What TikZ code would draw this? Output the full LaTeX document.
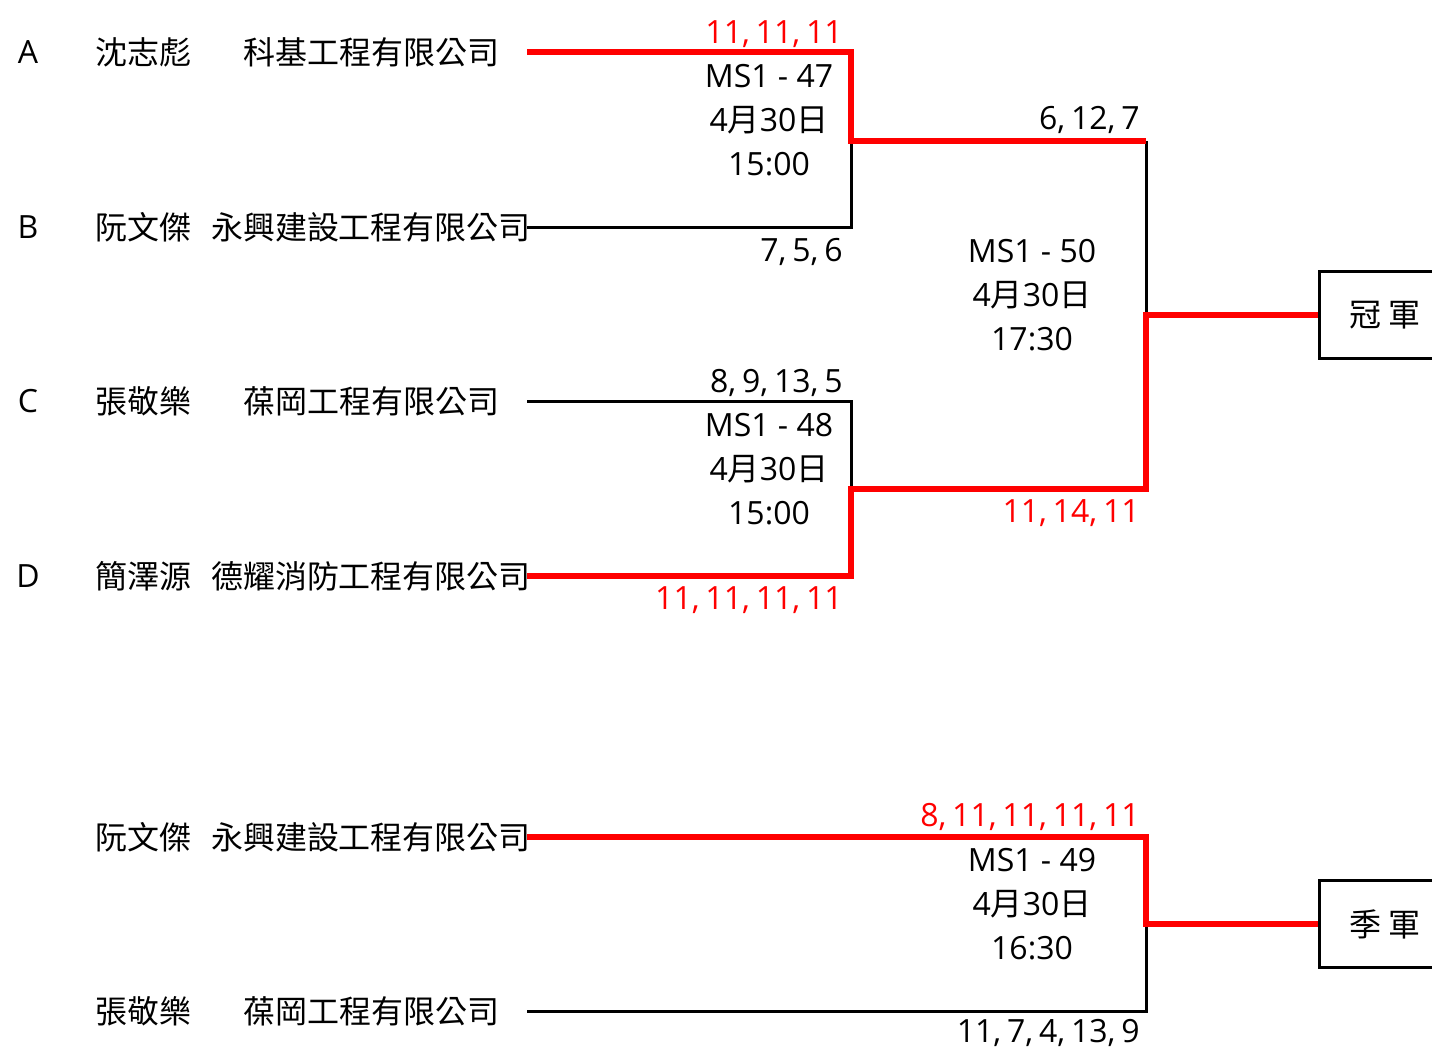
\documentclass[tikz,border=0pt]{standalone}
\usepackage{fontspec}
\setmainfont{Open Sans}
\newfontfamily\cjk{Noto Sans CJK TC}
\newfontfamily\scorefont[WordSpace=0.7]{Open Sans}
\usetikzlibrary{positioning}
\tikzset{win/.style={red, line width=3pt}}
\tikzset{lose/.style={black, line width=1.5pt}}
\tikzset{score/.style={anchor=east, inner sep=0pt, font=\fontsize{16}{22}\scorefont}}
\tikzset{prize/.style={draw, line width=1.5pt, anchor=west, minimum width=65.5pt, minimum height=43.5pt, inner sep=0pt}}
\newcommand{\matchday}{4{\cjk 月}30{\cjk 日}}

\begin{document}
\begin{tikzpicture}[x=0.5pt,y=-0.5pt,font=\fontsize{16}{22}\selectfont]
      \useasboundingbox (0,0) rectangle (1432,1050);
      % players of the semi finals
      \foreach \n/\l/\p/\c/\y in {pa/A/沈志彪/科基工程有限公司/52,
                                  pb/B/阮文傑/永興建設工程有限公司/227,
                                  pc/C/張敬樂/葆岡工程有限公司/401,
                                  pd/D/簡澤源/德耀消防工程有限公司/576}{
        \node[inner sep=0pt] (\n-l) at (28,\y) {\l};
        \node[anchor=west, inner sep=0pt] (\n-p) at (95,\y) {\cjk \p};
        \node[inner sep=0pt] (\n-c) at (371,\y) {\cjk \c};
        \coordinate (\n) at (527,\y);
      }
      % players of the bronze match
      \foreach \n/\p/\c/\y in {pe/阮文傑/永興建設工程有限公司/837,
                               pf/張敬樂/葆岡工程有限公司/1011}{
        \node[anchor=west, inner sep=0pt] (\n-p) at (95,\y) {\cjk \p};
        \node[inner sep=0pt] (\n-c) at (371,\y) {\cjk \c};
        \coordinate (\n) at (527,\y);
      }
      \coordinate (sf1) at (851,141);
      \coordinate (sf2) at (851,489);
      \coordinate (fin) at (1146,315);
      \coordinate (bronze) at (1146,924);
      \node[prize] (champ) at (1318,315) {\cjk 冠 軍};
      \node[prize] (third) at (1318,924) {\cjk 季 軍};
      % losers first, winners on top
      \draw[lose] (pb) -| (sf1);
      \draw[lose] (pc) -| (sf2);
      \draw[lose] (sf1 -| fin) -- (fin);
      \draw[lose] (pf) -| (bronze);
      \draw[win] (pa) -| (sf1) -- (sf1 -| fin);
      \draw[win] (pd) -| (sf2) -- (sf2 -| fin) -- (fin) -- (champ.west);
      \draw[win] (pe) -| (bronze) -- (third.west);
      % match info
      \node[align=center, inner sep=0pt] (ms47) at (769,120) {MS1 - 47\\\matchday\\15:00};
      \node[align=center, inner sep=0pt] (ms48) at (769,469) {MS1 - 48\\\matchday\\15:00};
      \node[align=center, inner sep=0pt] (ms50) at (1032,295) {MS1 - 50\\\matchday\\17:30};
      \node[align=center, inner sep=0pt] (ms49) at (1032,904) {MS1 - 49\\\matchday\\16:30};
      % scores
      \node[score, red] (s47a) at (843,34) {11, 11, 11};
      \node[score] (s47b) at (843,252) {7, 5, 6};
      \node[score] (s48c) at (843,383) {8, 9, 13, 5};
      \node[score, red] (s48d) at (843,600) {11, 11, 11, 11};
      \node[score] (s50a) at (1140,120) {6, 12, 7};
      \node[score, red] (s50d) at (1140,513) {11, 14, 11};
      \node[score, red] (s49e) at (1140,817) {8, 11, 11, 11, 11};
      \node[score] (s49f) at (1140,1033) {11, 7, 4, 13, 9};
    \end{tikzpicture}
\end{document}
